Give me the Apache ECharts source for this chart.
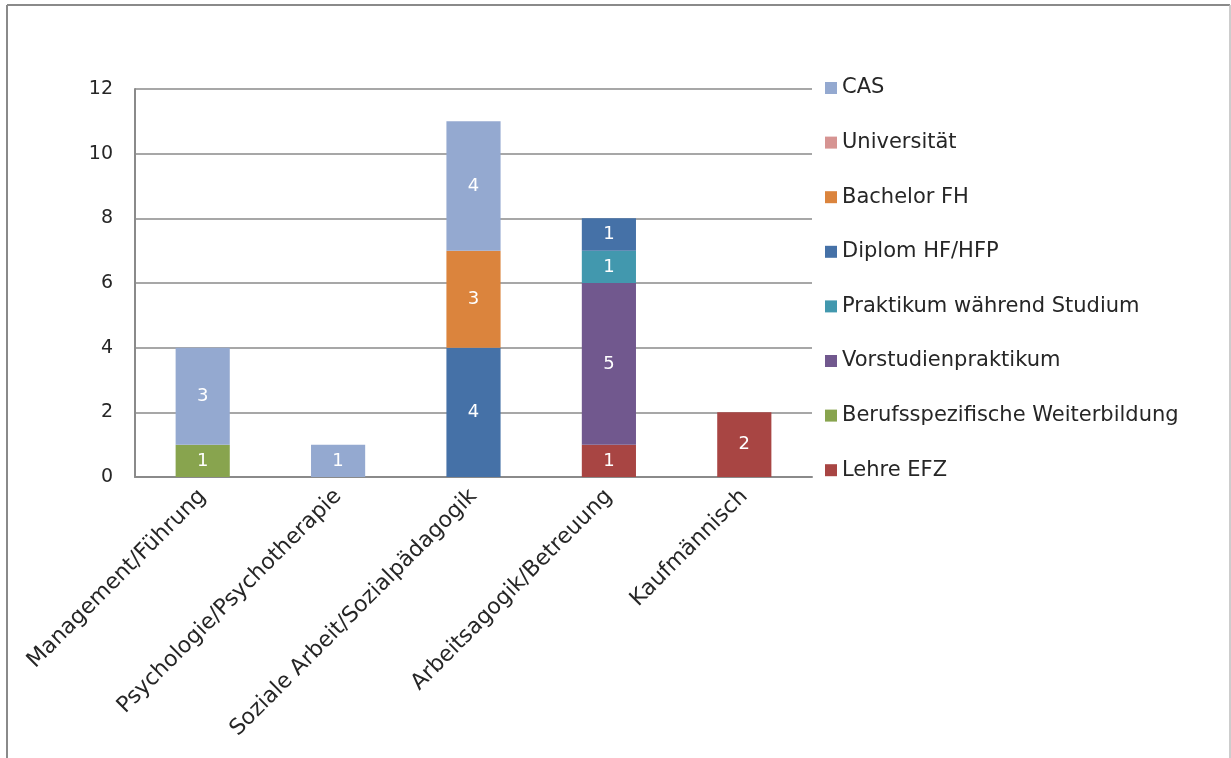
<!DOCTYPE html>
<html>
<head>
<meta charset="utf-8">
<script src="https://cdn.jsdelivr.net/npm/echarts@6/dist/echarts.min.js"></script>
<style>
  html, body { margin: 0; padding: 0; background: #fff; }
  #chart { width: 1231px; height: 758px; }
</style>
</head>
<body>
<div id="chart"></div>
<script>
// Fachbereiche (x-axis categories)
const categories = [
  'Management/Führung',
  'Psychologie/Psychotherapie',
  'Soziale Arbeit/Sozialpädagogik',
  'Arbeitsagogik/Betreuung',
  'Kaufmännisch'
];

// Ausbildungsarten, stacked from bottom to top
const lehreEFZ            = [null, null, null, 1, 2];
const berufsWeiterbildung = [1, null, null, null, null];
const vorstudienpraktikum = [null, null, null, 5, null];
const praktikumStudium    = [null, null, null, 1, null];
const diplomHF            = [null, null, 4, 1, null];
const bachelorFH          = [null, null, 3, null, null];
const universitaet        = [null, null, null, null, null];
const cas                 = [3, 1, 4, null, null];

const yTicks = [0, 2, 4, 6, 8, 10, 12];

const FONT = '"DejaVu Sans", sans-serif';
const TEXT = '#262626';

const stackDefs = [
  { name: 'Lehre EFZ', data: lehreEFZ, color: '#A84543' },
  { name: 'Berufsspezifische Weiterbildung', data: berufsWeiterbildung, color: '#88A44E' },
  { name: 'Vorstudienpraktikum', data: vorstudienpraktikum, color: '#71588E' },
  { name: 'Praktikum während Studium', data: praktikumStudium, color: '#4298AE' },
  { name: 'Diplom HF/HFP', data: diplomHF, color: '#4571A7' },
  { name: 'Bachelor FH', data: bachelorFH, color: '#DB843D' },
  { name: 'Universität', data: universitaet, color: '#D69492' },
  { name: 'CAS', data: cas, color: '#94A9D0' }
];

const series = stackDefs.map(d => ({
  name: d.name,
  type: 'bar',
  stack: 'total',
  barWidth: '40%',
  data: d.data,
  itemStyle: { color: d.color },
  label: {
    show: true,
    position: 'inside',
    color: '#fff',
    fontFamily: FONT,
    fontSize: 18
  },
  emphasis: { disabled: true }
}));

const chart = echarts.init(document.getElementById('chart'), null, { renderer: 'canvas' });
chart.setOption({
  animation: false,
  backgroundColor: '#fff',
  grid: { left: 135, right: 419, top: 89, bottom: 281, containLabel: false },
  legend: {
    orient: 'vertical',
    left: 825,
    top: 77,
    padding: 0,
    data: stackDefs.map(d => d.name).reverse(),
    icon: 'rect',
    itemWidth: 12,
    itemHeight: 12,
    itemGap: 32.6,
    selectedMode: false,
    textStyle: { color: TEXT, fontFamily: FONT, fontSize: 21, lineHeight: 22 }
  },
  xAxis: {
    type: 'category',
    data: categories,
    axisLine: { show: true, lineStyle: { color: '#8a8a8a', width: 2 } },
    axisTick: { show: false },
    axisLabel: {
      rotate: 45,
      margin: 16,
      color: TEXT,
      fontFamily: FONT,
      fontSize: 22,
      interval: 0
    }
  },
  yAxis: {
    type: 'value',
    min: yTicks[0],
    max: yTicks[yTicks.length - 1],
    interval: 2,
    axisLine: { show: true, lineStyle: { color: '#8a8a8a', width: 2 } },
    axisTick: { show: false },
    axisLabel: { margin: 22, color: TEXT, fontFamily: FONT, fontSize: 19 },
    splitLine: { show: true, lineStyle: { color: '#8a8a8a', width: 1.5 } }
  },
  series: series,
  graphic: [
    { type: 'line', shape: { x1: 7, y1: 5, x2: 1230, y2: 5 }, style: { stroke: '#8a8a8a', lineWidth: 2 } },
    { type: 'line', shape: { x1: 7, y1: 5, x2: 7, y2: 758 }, style: { stroke: '#8a8a8a', lineWidth: 2 } },
    { type: 'line', shape: { x1: 1230, y1: 5, x2: 1230, y2: 758 }, style: { stroke: '#bdbdbd', lineWidth: 1.5 } }
  ]
});
</script>
</body>
</html>
